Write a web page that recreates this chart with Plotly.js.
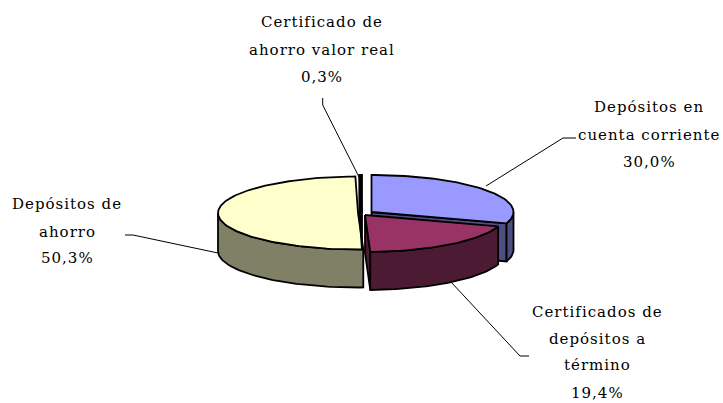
<!DOCTYPE html>
<html><head><meta charset="utf-8">
<script src="https://cdn.plot.ly/plotly-3.0.1.min.js"></script>
<style>html,body{margin:0;padding:0;background:#fff}#c{width:723px;height:403px}
.annotation-text{letter-spacing:1px}</style>
</head><body><div id="c"></div>
<script>
const categories = ["Depósitos en cuenta corriente","Certificados de depósitos a término","Depósitos de ahorro","Certificado de ahorro valor real"];
const shares = [30.0,19.4,50.3,0.3];
const displayShares = ["30,0%","19,4%","50,3%","0,3%"];
const topColors = ["#9999FF","#993366","#FFFFCC","#000000"];
const sideColors = ["#4D4D80","#4D1A33","#808066","#000000"];
const labelLines = [["Depósitos en","cuenta corriente"],["Certificados de","depósitos a","término"],["Depósitos de","ahorro"],["Certificado de","ahorro valor real"]];

const DEPTH=38, FONT="'DejaVu Serif', serif";
const radii=[[142,37],[140,37],[140,36.5],[142,37]];
const centers=[[371.5,212],[365,215],[358,213],[362,212]];
const labelX=[649,597,67,322];
const labelY=[[107,135,162],[312,339,365,393],[204,232,258],[22,50,77]];
const leaders=[[[486,186],[563,138],[576,138]],[[451,282],[520,356],[529,356]],[[218,253],[133,235],[125,235]],[[359,177],[322.7,105],[322.7,98]]];

const total=shares.reduce((a,b)=>a+b,0);
let acc=0;
const slices=shares.map(s=>{const a0=acc/total*360;acc+=s;return [a0,acc/total*360];});
const pt=(i,t,d=0)=>{const r=t*Math.PI/180,c=centers[i],R=radii[i];return [c[0]+R[0]*Math.sin(r),c[1]-R[1]*Math.cos(r)+d];};
function arc(i,a,b,d=0){const n=Math.max(2,Math.ceil(Math.abs(b-a)/1.5));const o=[];for(let k=0;k<=n;k++)o.push(pt(i,a+(b-a)*k/n,d));return o;}
const traces=[];
function poly(points,fill,w=1.8){
  const p=points.concat([points[0]]);
  traces.push({type:"scatter",mode:"lines",x:p.map(q=>q[0]),y:p.map(q=>q[1]),fill:"toself",fillcolor:fill,
    line:{color:"#000",width:w,shape:"linear"},hoverinfo:"skip",showlegend:false});
}
function slice(i,wallFrom,wallTo,cutAngle){
  const c=centers[i],[a,b]=slices[i];
  if(cutAngle!==undefined){
    const e=pt(i,cutAngle);
    poly([c,e,[e[0],e[1]+DEPTH],[c[0],c[1]+DEPTH]],sideColors[i]);
  }
  if(wallFrom!==undefined){
    poly(arc(i,wallFrom,wallTo).concat(arc(i,wallTo,wallFrom,DEPTH)),sideColors[i]);
  }
  poly([c].concat(arc(i,a,b)),topColors[i]);
}
slice(0,90,slices[0][1],slices[0][1]);
slice(1,slices[1][0],slices[1][1],slices[1][1]);
slice(2,slices[2][0],270);
slice(3,undefined,undefined,slices[3][0]);

leaders.forEach(l=>traces.push({type:"scatter",mode:"lines",x:l.map(q=>q[0]),y:l.map(q=>q[1]),
  line:{color:"#000",width:1},hoverinfo:"skip",showlegend:false}));

const annotations=[];
categories.forEach((c,i)=>{
  labelLines[i].concat(displayShares[i]).forEach((t,j)=>annotations.push({xref:"x",yref:"y",x:labelX[i],y:labelY[i][j],xanchor:"center",yanchor:"middle",
    showarrow:false,align:"center",text:t,font:{family:FONT,size:15,color:"#000"}}));
});

Plotly.newPlot("c",traces,{width:723,height:403,margin:{l:0,r:0,t:0,b:0},paper_bgcolor:"#fff",plot_bgcolor:"#fff",showlegend:false,
  xaxis:{range:[0,723],visible:false,fixedrange:true},yaxis:{range:[403,0],visible:false,fixedrange:true},annotations},{displayModeBar:false,staticPlot:true});
</script></body></html>
